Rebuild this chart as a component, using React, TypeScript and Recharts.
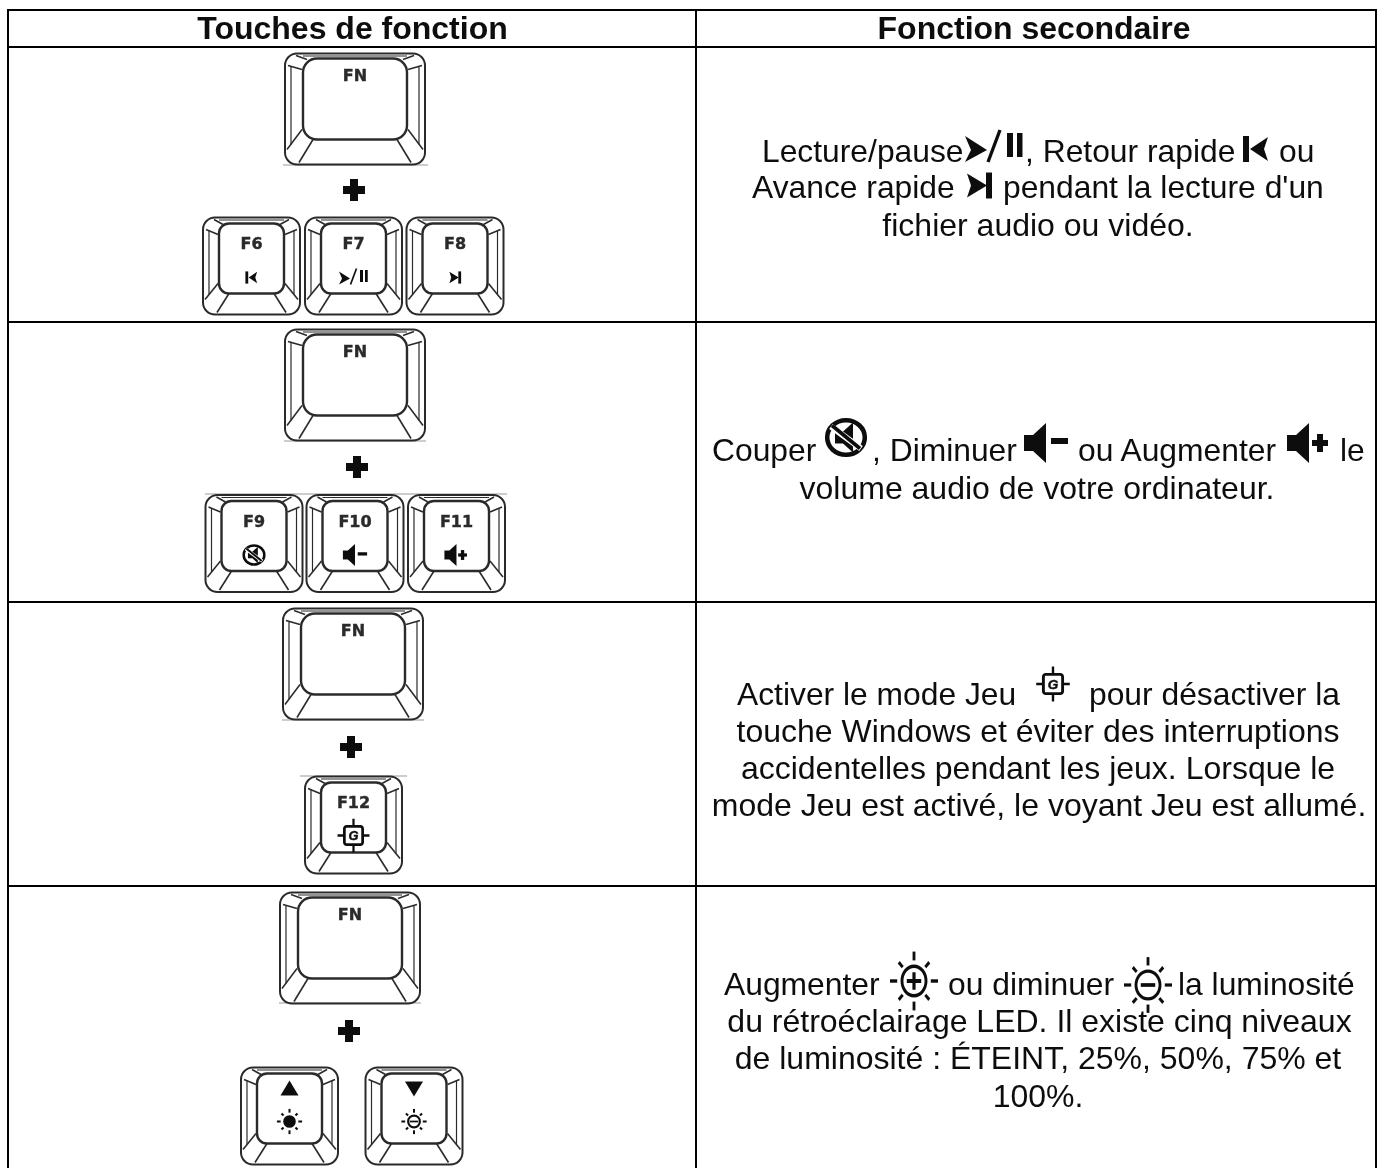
import { ScatterChart, Scatter, XAxis, YAxis, ReferenceLine } from 'recharts';

const WIDTH = 1384;
const HEIGHT = 1168;
const INK = '#111';
const KEY_INK = '#2b2b2b';

// table rules, in picture pixels (the value axes run 0..1384 and 0..1168)
const columnX = [8, 696, 1376];
const rowY = [10, 47, 322, 602, 886];
const ruleTop = 10;
const ruleBottom = 1168;

// thin grey rules printed with the key drawings
const greyRuleY = [165, 441, 494, 720, 776, 1003];
const greyRuleFrom = [283, 284, 205, 282, 300, 279];
const greyRuleTo = [428, 426, 507, 424, 407, 421];

// key caps
const keyNames = ['FN', 'F6', 'F7', 'F8', 'FN', 'F9', 'F10', 'F11', 'FN', 'F12', '', '', 'FN'];
const keyX = [355, 251.5, 353.5, 455, 355, 254, 355, 456.5, 353, 353.5, 289.5, 414, 350];
const keyY = [109, 266, 266, 266, 385, 543.5, 543.5, 543.5, 664, 825, 1116, 1116, 948];
const keyIcons = ['', 'prev', 'playPause', 'next', '', 'mute', 'volDown', 'volUp', '', 'game', 'keyBrightUp', 'keyBrightDown', ''];

// "+" between the keys
const plusX = [354, 357, 351, 349];
const plusY = [190, 467, 747, 1031];

// icons inside the right column text
const textIcons = ['playPause', 'prev', 'next', 'mute', 'volDown', 'volUp', 'game', 'brightUp', 'brightDown'];
const textIconX = [994, 1256, 979, 846, 1046, 1309, 1053, 914, 1148];
const textIconY = [148, 149, 185.5, 437.5, 443, 443, 684, 981, 985];

// text pieces
const headerTexts = ['Touches de fonction', 'Fonction secondaire'];
const headerX = [352.5, 1034];
const headerY = [39, 39];

const centredLines = [
  'fichier audio ou vidéo.',
  'volume audio de votre ordinateur.',
  'touche Windows et éviter des interruptions',
  'accidentelles pendant les jeux. Lorsque le',
  'mode Jeu est activé, le voyant Jeu est allumé.',
  'du rétroéclairage LED. Il existe cinq niveaux',
  'de luminosité : ÉTEINT, 25%, 50%, 75% et',
  '100%.',
];
const centredX = [1038, 1037, 1038, 1038, 1039, 1039.5, 1038, 1038];
const centredY = [235.5, 498.5, 742, 779, 816, 1032, 1069, 1107];

const startLines = [
  'Lecture/pause',
  ', Retour rapide',
  'ou',
  'Avance rapide',
  "pendant la lecture d'un",
  'Couper',
  ', Diminuer',
  'ou Augmenter',
  'le',
  'Activer le mode Jeu',
  'pour désactiver la',
  'Augmenter',
  'ou diminuer',
  'la luminosité',
];
const startX = [762, 1025, 1279, 752, 1003, 712, 872, 1078, 1340, 737, 1089, 724, 948, 1178];
const startY = [161.5, 161.5, 161.5, 197.5, 197.5, 461, 461, 461, 461, 705, 705, 995, 995, 995];

const table = (xs: number[], ys: number[], extra: Record<string, any[]> = {}) =>
  xs.map((x, i) => {
    const row: any = { x, y: ys[i] };
    Object.keys(extra).forEach((k) => (row[k] = extra[k][i]));
    return row;
  });

const keyData = table(keyX, keyY, { name: keyNames, icon: keyIcons });
const plusData = table(plusX, plusY);
const textIconData = table(textIconX, textIconY, { icon: textIcons });
const headerData = table(headerX, headerY, { text: headerTexts });
const centredData = table(centredX, centredY, { text: centredLines });
const startData = table(startX, startY, { text: startLines });

const keyIconScale: Record<string, number> = {
  prev: 0.47,
  next: 0.47,
  playPause: 0.5,
  mute: 0.55,
  volDown: 0.55,
  volUp: 0.55,
  game: 0.76,
};
// the suns in the text are a little taller than they are wide
const textIconScale: Record<string, string> = {
  game: '0.8',
  brightUp: '0.8,0.98',
  brightDown: '0.8,0.93',
};

function Icon({ name, bold = 1 }: { name: string; bold?: number }) {
  const speaker = <path d="M-22,-8 L-13,-8 L0,-20 L0,20 L-13,8 L-22,8 Z" fill={INK} />;
  const rays = [0, 45, 90, 135, 180, 225, 270, 315].map((a) => (
    <line
      key={a}
      x1={0}
      y1={a % 90 === 0 ? -21 : -20}
      x2={0}
      y2={a % 90 === 0 ? -30 : -27}
      stroke={INK}
      strokeWidth={3.5 * bold}
      transform={`rotate(${a})`}
    />
  ));
  switch (name) {
    case 'playPause':
      return (
        <g>
          <path d="M-29,-12 L-7,2 L-29,14 L-23,2 Z" fill={INK} />
          <line x1={-6} y1={14} x2={6} y2={-18} stroke={INK} strokeWidth={3.4} />
          <rect x={13} y={-15} width={6} height={24} fill={INK} />
          <rect x={23} y={-15} width={5.5} height={24} fill={INK} />
        </g>
      );
    case 'prev':
      return (
        <g>
          <rect x={-13} y={-13} width={6} height={26} fill={INK} />
          <path d="M12,-12 L-6,0 L12,12 L8,0 Z" fill={INK} />
        </g>
      );
    case 'next':
      return (
        <g>
          <rect x={7} y={-13} width={6} height={26} fill={INK} />
          <path d="M-12,-12 L8,0 L-12,12 L-8,0 Z" fill={INK} />
        </g>
      );
    case 'mute':
      return (
        <g>
          <ellipse rx={18.8} ry={17.3} fill="none" stroke={INK} strokeWidth={4.6} />
          <path d="M-11,-6 L-3,-6 L7,-15 L7,15 L-3,6 L-11,6 Z" fill={INK} />
          <line x1={-15} y1={-11} x2={15} y2={11} stroke="#fff" strokeWidth={6} />
          <line x1={-14} y1={-12} x2={14} y2={11} stroke={INK} strokeWidth={3.6} />
        </g>
      );
    case 'volDown':
      return (
        <g>
          {speaker}
          <rect x={5} y={-5} width={17} height={6} fill={INK} />
        </g>
      );
    case 'volUp':
      return (
        <g>
          {speaker}
          <rect x={3} y={-3} width={16} height={6} fill={INK} />
          <rect x={8} y={-9} width={6} height={18} fill={INK} />
        </g>
      );
    case 'game':
      return (
        <g>
          <rect x={-12} y={-12} width={24} height={24} rx={3} fill="none" stroke={INK} strokeWidth={3.6} />
          <path d="M0,-22 V-12 M0,12 V22 M-21,0 H-12 M12,0 H21" stroke={INK} strokeWidth={3} />
          <text
            x={0}
            y={6}
            textAnchor="middle"
            fontSize={17}
            fontWeight={700}
            fontStyle="italic"
            fontFamily="Liberation Sans"
            fill={INK}
            stroke={INK}
            strokeWidth={0.6}
          >
            G
          </text>
        </g>
      );
    case 'brightUp':
      return (
        <g>
          {rays}
          <circle r={15} fill="none" stroke={INK} strokeWidth={3.6} />
          <path d="M-9,0 H9 M0,-9 V9" stroke={INK} strokeWidth={4} />
        </g>
      );
    case 'brightDown':
      return (
        <g>
          {rays}
          <circle r={15} fill="none" stroke={INK} strokeWidth={3.6} />
          <path d="M-9,0 H9" stroke={INK} strokeWidth={4} />
        </g>
      );
    case 'keyBrightUp':
      return (
        <g>
          {rays}
          <circle r={15} fill={INK} />
        </g>
      );
    case 'keyBrightDown':
      return (
        <g>
          {rays}
          <circle r={14} fill="none" stroke={INK} strokeWidth={5} />
          <path d="M-10,0 H10" stroke={INK} strokeWidth={4} />
        </g>
      );
    default:
      return null;
  }
}

function KeyCap(props: any) {
  const { cx, cy, payload } = props;
  const wide = payload.name === 'FN';
  const w = wide ? 140 : 97;
  const h = wide ? 111 : 97;
  const inX = wide ? 18 : 16;
  const inTop = wide ? 5 : 6;
  const inBottom = wide ? 25 : 21;
  const r = wide ? 14 : 10;
  const left = cx - w / 2;
  const top = cy - h / 2;
  const right = left + w;
  const bottom = top + h;
  const il = left + inX;
  const ir = right - inX;
  const ib = bottom - inBottom;
  const it = top + inTop;
  const mirror = (x: number) => left + right - x;
  const facets = [
    [il - 1, ib - 10, left + 2, bottom - 15],
    [il + 10, ib, left + 14, bottom - 2],
    [left + 3, top + 12, il - 1, it + 11],
    [il + 4, it + 1, left + 11, top + 2],
  ];
  const isBright = payload.icon === 'keyBrightUp' || payload.icon === 'keyBrightDown';
  return (
    <g fill="none" stroke={KEY_INK} filter="url(#soft)">
      <rect x={left} y={top} width={w} height={h} rx={12} strokeWidth={2} />
      <rect x={il} y={it} width={ir - il} height={ib - it} rx={r} strokeWidth={2.4} />
      <line x1={left + 6} y1={top + 13} x2={left + 6} y2={bottom - 20} strokeWidth={1.2} />
      <line x1={right - 6} y1={top + 13} x2={right - 6} y2={bottom - 20} strokeWidth={1.2} />
      <line x1={il} y1={top + 2.5} x2={ir} y2={top + 2.5} strokeWidth={1.2} />
      {facets.map((f, i) => (
        <g key={i}>
          <line x1={f[0]} y1={f[1]} x2={f[2]} y2={f[3]} strokeWidth={1.6} />
          <line x1={mirror(f[0])} y1={f[1]} x2={mirror(f[2])} y2={f[3]} strokeWidth={1.6} />
        </g>
      ))}
      {payload.name && (
        <text
          x={cx}
          y={top + (wide ? 27 : 31.5)}
          textAnchor="middle"
          fontFamily="DejaVu Sans"
          fontWeight={700}
          fontSize={16}
          fill={KEY_INK}
          stroke={KEY_INK}
          strokeWidth={0.4}
        >
          {payload.name}
        </text>
      )}
      {isBright ? (
        <g stroke="none">
          <path
            transform={`translate(${cx},${top + 21})`}
            d={payload.icon === 'keyBrightUp' ? 'M-9,7 L0,-8 L9,7 Z' : 'M-9,-7 L0,8 L9,-7 Z'}
            fill={INK}
          />
          <g transform={`translate(${cx},${top + 54}) scale(0.42)`} stroke="none">
            <Icon name={payload.icon} bold={1.4} />
          </g>
        </g>
      ) : payload.icon ? (
        <g
          transform={`translate(${cx},${top + (payload.icon === 'game' ? 59 : 60)}) scale(${
            keyIconScale[payload.icon]
          })`}
          stroke="none"
        >
          <Icon name={payload.icon} />
        </g>
      ) : null}
    </g>
  );
}

const PlusMark = (props: any) => (
  <g filter="url(#soft)">
    <rect x={props.cx - 11} y={props.cy - 4} width={22} height={8} fill={INK} />
    <rect x={props.cx - 4} y={props.cy - 11} width={8} height={22} fill={INK} />
  </g>
);

const TextIcon = (props: any) => (
  <g
    transform={`translate(${props.cx},${props.cy}) scale(${textIconScale[props.payload.icon] ?? '1'})`}
    filter="url(#softer)"
  >
    <Icon name={props.payload.icon} />
  </g>
);

const textMark = (anchor: string, weight: number, size: number) => (props: any) => (
  <text
    x={props.cx}
    y={props.cy}
    textAnchor={anchor as any}
    fontFamily="Liberation Sans"
    fontSize={size}
    fontWeight={weight}
    fill={INK}
    filter="url(#softer)"
  >
    {props.payload.text}
  </text>
);

export default function App() {
  return (
    <div style={{ position: 'absolute', left: 0, top: 0, width: WIDTH, height: HEIGHT, background: '#fff' }}>
      <ScatterChart width={WIDTH} height={HEIGHT} margin={{ top: 0, right: 0, bottom: 0, left: 0 }}>
        <defs>
          <filter id="soft" x="-5%" y="-5%" width="110%" height="110%">
            <feGaussianBlur stdDeviation="0.45" />
          </filter>
          <filter id="softer" x="-5%" y="-10%" width="110%" height="120%">
            <feGaussianBlur stdDeviation="0.3" />
          </filter>
        </defs>
        <XAxis type="number" dataKey="x" domain={[0, WIDTH]} hide />
        <YAxis type="number" dataKey="y" domain={[0, HEIGHT]} reversed hide />
        {greyRuleY.map((y, i) => (
          <ReferenceLine
            key={`grey-${i}`}
            segment={[
              { x: greyRuleFrom[i], y },
              { x: greyRuleTo[i], y },
            ]}
            stroke="#999"
            strokeWidth={1}
          />
        ))}
        {rowY.map((y) => (
          <ReferenceLine
            key={`row-${y}`}
            segment={[
              { x: columnX[0] - 1, y },
              { x: columnX[2] + 1, y },
            ]}
            stroke="#000"
            strokeWidth={2}
          />
        ))}
        {columnX.map((x) => (
          <ReferenceLine
            key={`col-${x}`}
            segment={[
              { x, y: ruleTop },
              { x, y: ruleBottom },
            ]}
            stroke="#000"
            strokeWidth={2}
          />
        ))}
        <Scatter data={keyData} shape={KeyCap} isAnimationActive={false} />
        <Scatter data={plusData} shape={PlusMark} isAnimationActive={false} />
        <Scatter data={textIconData} shape={TextIcon} isAnimationActive={false} />
        <Scatter data={headerData} shape={textMark('middle', 700, 32)} isAnimationActive={false} />
        <Scatter data={centredData} shape={textMark('middle', 400, 32)} isAnimationActive={false} />
        <Scatter data={startData} shape={textMark('start', 400, 31.8)} isAnimationActive={false} />
      </ScatterChart>
    </div>
  );
}
